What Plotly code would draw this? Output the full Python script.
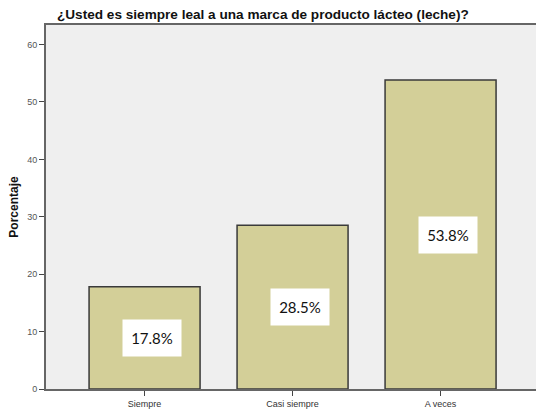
import plotly.graph_objects as go

categories = ["Siempre", "Casi siempre", "A veces"]
values = [17.8, 28.5, 53.8]
value_labels = ["17.8%", "28.5%", "53.8%"]
y_ticks = [0, 10, 20, 30, 40, 50, 60]

fig = go.Figure()
fig.add_trace(go.Bar(
    x=list(range(len(categories))),
    y=values,
    width=0.75,
    marker=dict(color="#d3cf98", line=dict(color="#3a3a3a", width=1.5)),
    hoverinfo="skip",
))

# white value boxes placed at half the bar height
for i, (v, lab) in enumerate(zip(values, value_labels)):
    fig.add_annotation(
        x=i + 0.05, y=v / 2, text=lab, showarrow=False,
        font=dict(family="Lato", size=15, color="#111111"),
        bgcolor="white", width=56, height=34, borderpad=1,
        xanchor="center", yanchor="middle",
    )

fig.update_layout(
    width=536, height=409,
    margin=dict(l=46, r=0, t=25, b=20),
    paper_bgcolor="white",
    plot_bgcolor="#efefef",
    showlegend=False,
    title=dict(
        text="<b>¿Usted es siempre leal a una marca de producto lácteo (leche)?</b>",
        font=dict(family="Liberation Sans, Arial", size=13.6, color="#111111"),
        x=57 / 536, xanchor="left", y=1 - 14 / 409, yanchor="middle",
    ),
    xaxis=dict(
        range=[-0.666, -0.666 + 490 / 148],
        tickvals=list(range(len(categories))),
        ticktext=categories,
        ticks="outside", ticklen=5, tickwidth=1, tickcolor="#444444",
        tickfont=dict(family="Liberation Sans, Arial", size=9, color="#333333"),
        showline=True, linecolor="#666666", linewidth=2, mirror=True,
        showgrid=False, zeroline=False,
    ),
    yaxis=dict(
        range=[0, 63.4],
        tickvals=y_ticks,
        ticks="outside", ticklen=5, tickwidth=1, tickcolor="#444444",
        tickfont=dict(family="Liberation Sans, Arial", size=9, color="#555555"),
        showline=True, linecolor="#666666", linewidth=2, mirror=False,
        showgrid=False, zeroline=False,
        title=dict(text="<b>Porcentaje</b>", standoff=6,
                   font=dict(family="Liberation Sans, Arial", size=12, color="#111111")),
    ),
)

fig.write_html("out.html")
